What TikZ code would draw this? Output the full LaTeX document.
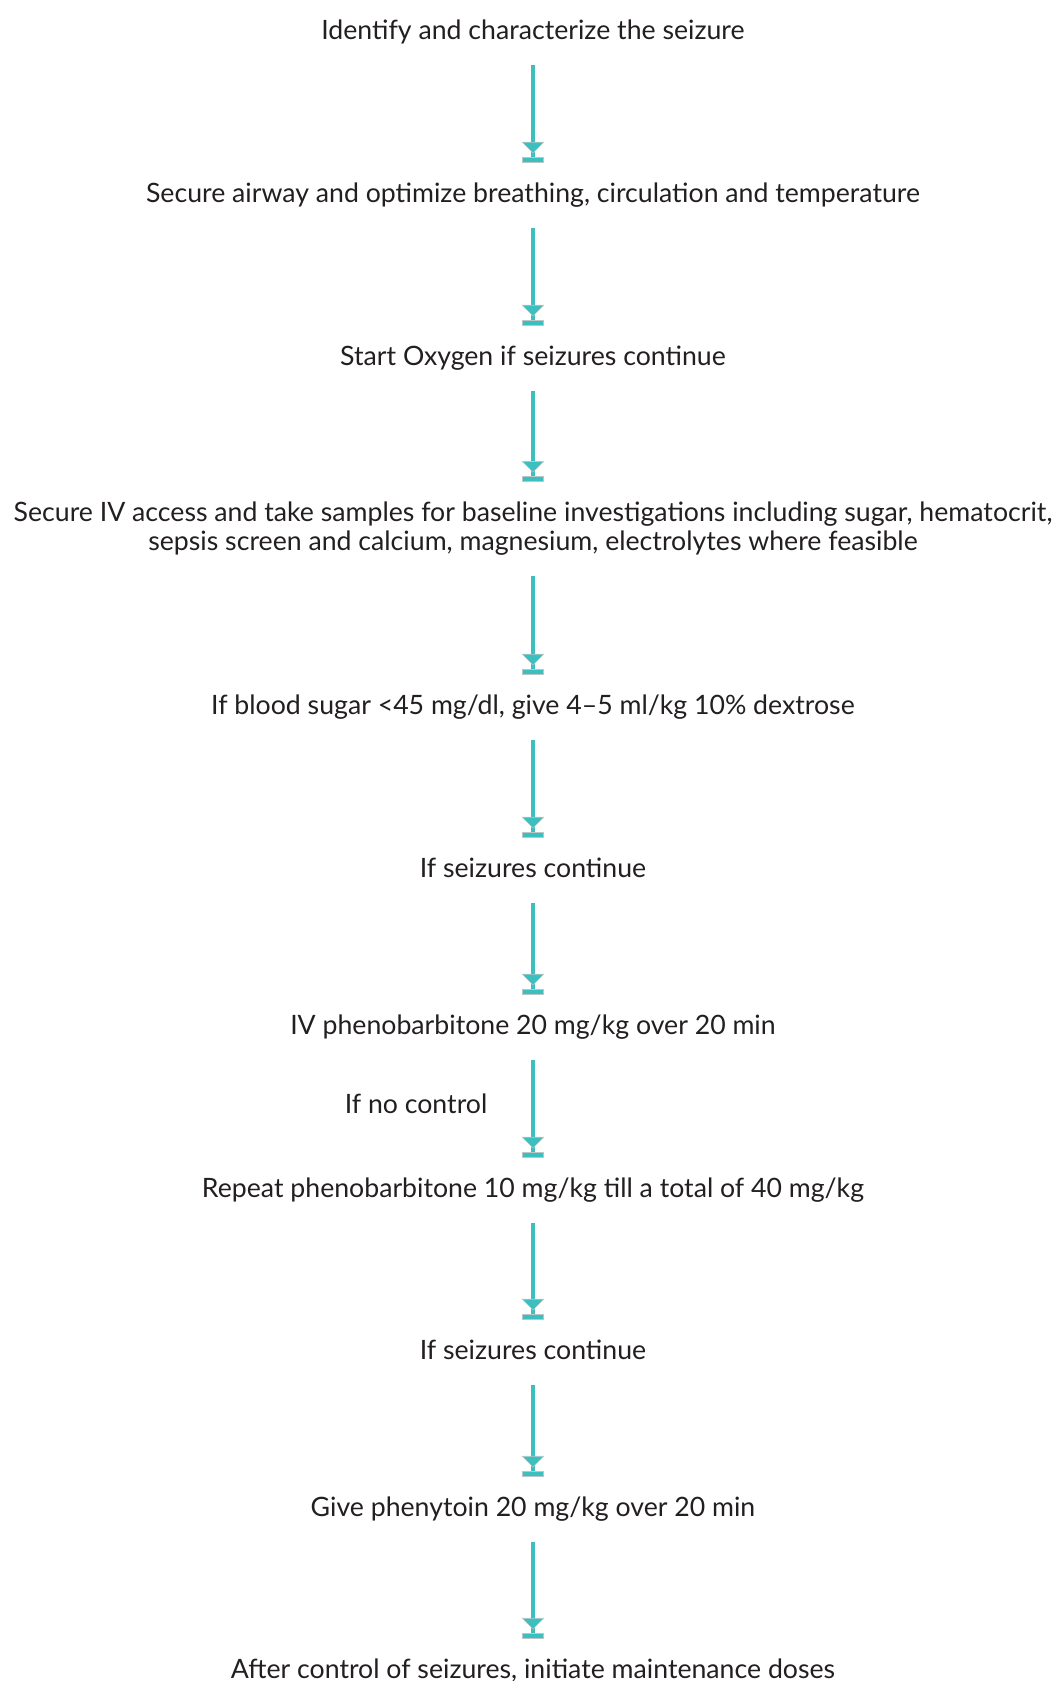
\documentclass[tikz,border=0pt]{standalone}
\usepackage{fontspec}
\setmainfont{Lato}
\usetikzlibrary{arrows.meta}
\definecolor{tealc}{HTML}{3BC0BF}
\definecolor{edgec}{HTML}{BCC6C6}
\definecolor{textc}{HTML}{231F20}
\begin{document}
\begin{tikzpicture}[x=0.75pt,y=-0.75pt,
  step node/.style={anchor=base, inner sep=0pt, text=textc,
    font=\fontsize{20pt}{21.75pt}\selectfont,
    text height=13.5pt, text depth=4.5pt},
  flow/.style={draw=tealc, line width=2.3pt,
    shorten <=14.5pt, shorten >=16.5pt,
    preaction={draw=edgec, line width=3.1pt, -, shorten <=14.5pt, shorten >=27pt},
    -{Triangle[width=17pt,length=8.5pt,line width=0.4pt,color=edgec,fill=tealc,sep=2.8pt]
      Rectangle[width=16.5pt,length=3.9pt,line width=0.4pt,color=edgec,fill=tealc]}}]
\useasboundingbox (0,0) rectangle (1060,1681);
\node[step node] (t1) at (533,39.5) {Identify and characterize the seizure};
\node[step node] (t2) at (533,202.5) {Secure airway and optimize breathing, circulation and temperature};
\node[step node] (t3) at (533,365.5) {Start Oxygen if seizures continue};
\node[step node, anchor=north, align=center, text height=35.25pt, text depth=4.5pt] (t4) at (533,503.5)
  {Secure IV access and take samples for baseline investigations including sugar, hematocrit,\\
   sepsis screen and calcium, magnesium, electrolytes where feasible};
\node[step node] (t5) at (533,714.5) {If blood sugar <45 mg/dl, give 4–5 ml/kg 10\% dextrose};
\node[step node] (t6) at (533,877.5) {If seizures continue};
\node[step node] (t7) at (533,1034.5) {IV phenobarbitone 20 mg/kg over 20 min};
\node[step node] (nc) at (416,1113.5) {If no control};
\node[step node] (t8) at (533,1197.5) {Repeat phenobarbitone 10 mg/kg till a total of 40 mg/kg};
\node[step node] (t9) at (533,1359.5) {If seizures continue};
\node[step node] (t10) at (533,1516.5) {Give phenytoin 20 mg/kg over 20 min};
\node[step node] (t11) at (533,1678.5) {After control of seizures, initiate maintenance doses};
\draw[flow] (t1.south) -- (t2.north);
\draw[flow] (t2.south) -- (t3.north);
\draw[flow] (t3.south) -- (t4.north);
\draw[flow] (t4.south) -- (t5.north);
\draw[flow] (t5.south) -- (t6.north);
\draw[flow] (t6.south) -- (t7.north);
\draw[flow] (t7.south) -- (t8.north);
\draw[flow] (t8.south) -- (t9.north);
\draw[flow] (t9.south) -- (t10.north);
\draw[flow] (t10.south) -- (t11.north);
\end{tikzpicture}
\end{document}
